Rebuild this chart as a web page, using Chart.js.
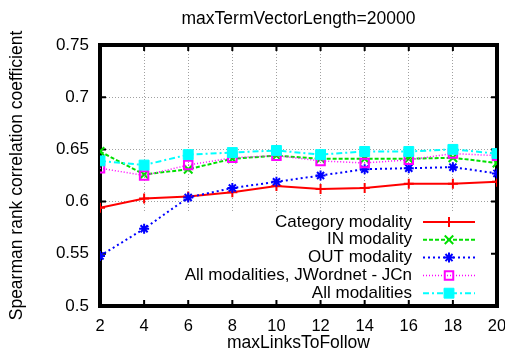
<!DOCTYPE html>
<html>
<head>
<meta charset="utf-8">
<script src="https://cdn.jsdelivr.net/npm/chart.js@4.4.0/dist/chart.umd.min.js"></script>
<style>
  html, body { margin: 0; padding: 0; background: #fff; }
</style>
</head>
<body>
<canvas id="chart" width="505" height="360"></canvas>
<script>
// valores
const maxLinks = [2, 4, 6, 8, 10, 12, 14, 16, 18, 20];
const categoryModality = [0.594, 0.603, 0.605, 0.609, 0.615, 0.612, 0.613, 0.617, 0.617, 0.619];
const inModality = [0.648, 0.626, 0.631, 0.641, 0.644, 0.641, 0.641, 0.641, 0.642, 0.637];
const outModality = [0.548, 0.574, 0.604, 0.613, 0.619, 0.625, 0.631, 0.632, 0.633, 0.627];
const allJCn = [0.632, 0.625, 0.635, 0.642, 0.644, 0.639, 0.637, 0.640, 0.646, 0.644];
const allModalities = [0.639, 0.635, 0.645, 0.647, 0.649, 0.645, 0.648, 0.648, 0.650, 0.646];
const seriesNames = ["Category modality", "IN modality", "OUT modality", "All modalities, JWordnet - JCn", "All modalities"];
const yTicks = [0.5, 0.55, 0.6, 0.65, 0.7, 0.75];
const chartTitle = "maxTermVectorLength=20000";

const FONT = "'Liberation Sans', Arial, sans-serif";

function pts(values) {
  return values.map((v, i) => ({ x: maxLinks[i], y: v }));
}

// título, recuadro opaco de la leyenda, marco y marcas interiores (estilo gnuplot)
const gnuplotKey = {
  id: "gnuplotKey",
  beforeDatasetsDraw(chart) {
    const { ctx, chartArea: a, scales } = chart;
    ctx.save();
    ctx.fillStyle = "#000";
    ctx.font = "17.5px " + FONT;
    ctx.textAlign = "center";
    ctx.textBaseline = "middle";
    ctx.fillText(chartTitle, (a.left + a.right) / 2, 19);

    const keyTop = a.bottom - 93;
    ctx.fillStyle = "#fff";
    ctx.fillRect(a.left, keyTop, a.right - a.left, a.bottom - keyTop);

    ctx.strokeStyle = "#000";
    ctx.lineWidth = 4;
    ctx.setLineDash([]);
    ctx.strokeRect(a.left, a.top, a.right - a.left, a.bottom - a.top);

    ctx.lineWidth = 2;
    ctx.beginPath();
    maxLinks.forEach(v => {
      const x = scales.x.getPixelForValue(v);
      ctx.moveTo(x, a.bottom); ctx.lineTo(x, a.bottom - 6);
      ctx.moveTo(x, a.top); ctx.lineTo(x, a.top + 6);
    });
    yTicks.forEach(v => {
      const y = scales.y.getPixelForValue(v);
      ctx.moveTo(a.left, y); ctx.lineTo(a.left + 6, y);
      ctx.moveTo(a.right, y); ctx.lineTo(a.right - 6, y);
    });
    ctx.stroke();
    ctx.restore();
  },
  afterDatasetsDraw(chart) {
    const { ctx, chartArea: a } = chart;
    ctx.save();
    ctx.font = "17px " + FONT;
    ctx.textAlign = "right";
    ctx.textBaseline = "middle";
    chart.data.datasets.forEach((ds, i) => {
      const y = a.bottom - 84 + i * 17.8;
      ctx.fillStyle = "#000";
      ctx.fillText(ds.label, a.right - 85, y);
      ctx.strokeStyle = ds.borderColor;
      ctx.lineWidth = ds.borderWidth;
      ctx.setLineDash(ds.borderDash || []);
      ctx.beginPath();
      ctx.moveTo(a.right - 74, y);
      ctx.lineTo(a.right - 22, y);
      ctx.stroke();
      ctx.setLineDash([]);
      ctx.fillStyle = ds.pointBackgroundColor;
      ctx.strokeStyle = ds.pointBorderColor;
      ctx.lineWidth = ds.pointBorderWidth;
      Chart.helpers.drawPoint(ctx, {
        pointStyle: ds.pointStyle, radius: ds.pointRadius, rotation: 0, borderWidth: ds.pointBorderWidth
      }, a.right - 48, y);
    });
    ctx.restore();
  }
};

const ctx = document.getElementById("chart").getContext("2d");
new Chart(ctx, {
  type: "line",
  data: {
    datasets: [
      {
        label: seriesNames[0], data: pts(categoryModality), order: 4,
        borderColor: "#ff0000", borderWidth: 2, borderDash: [],
        pointStyle: "cross", pointRadius: 5, pointBorderWidth: 2,
        pointBorderColor: "#ff0000", pointBackgroundColor: "#ff0000"
      },
      {
        label: seriesNames[1], data: pts(inModality), order: 3,
        borderColor: "#00e000", borderWidth: 2, borderDash: [4, 2],
        pointStyle: "crossRot", pointRadius: 6, pointBorderWidth: 2,
        pointBorderColor: "#00e000", pointBackgroundColor: "#00e000"
      },
      {
        label: seriesNames[2], data: pts(outModality), order: 2,
        borderColor: "#0000ff", borderWidth: 2, borderDash: [2, 3],
        pointStyle: "star", pointRadius: 5, pointBorderWidth: 2,
        pointBorderColor: "#0000ff", pointBackgroundColor: "#0000ff"
      },
      {
        label: seriesNames[3], data: pts(allJCn), order: 1,
        borderColor: "#ff00ff", borderWidth: 1.5, borderDash: [1, 2],
        pointStyle: "rect", pointRadius: 6, pointBorderWidth: 2,
        pointBorderColor: "#ff00ff", pointBackgroundColor: "rgba(0,0,0,0)"
      },
      {
        label: seriesNames[4], data: pts(allModalities), order: 0,
        borderColor: "#00ffff", borderWidth: 2, borderDash: [6, 3, 2, 3],
        pointStyle: "rect", pointRadius: 7, pointBorderWidth: 1,
        pointBorderColor: "#00ffff", pointBackgroundColor: "#00ffff"
      }
    ]
  },
  options: {
    responsive: false,
    animation: false,
    layout: { padding: { left: 0, right: 8, top: 45, bottom: 0 } },
    plugins: {
      legend: { display: false },
      tooltip: { enabled: false },
      title: { display: false }
    },
    scales: {
      x: {
        type: "linear", min: 2, max: 20,
        afterFit: s => { s.height = 54; s.paddingRight = 0; s.paddingLeft = 0; },
        ticks: { stepSize: 2, color: "#000", padding: 11, font: { family: FONT, size: 16.5 } },
        grid: { color: "#a0a0a0", drawTicks: false, lineWidth: 1 },
        border: { display: false, dash: [1, 2] },
        title: {
          display: true, text: "maxLinksToFollow", color: "#000",
          font: { family: FONT, size: 17.5 }, padding: { top: 0, bottom: 6.5 }
        }
      },
      y: {
        min: 0.5, max: 0.75,
        afterFit: s => { s.width = 100; s.paddingTop = 0; s.paddingBottom = 0; },
        ticks: {
          stepSize: 0.05, color: "#000", padding: 11, font: { family: FONT, size: 17 },
          callback: v => String(+v.toFixed(2))
        },
        grid: { color: "#a0a0a0", drawTicks: false, lineWidth: 1 },
        border: { display: false, dash: [1, 2] },
        title: {
          display: true, text: "Spearman rank correlation coefficient", color: "#000",
          font: { family: FONT, size: 17.5 }, padding: { top: 6.5, bottom: 0 }
        }
      }
    }
  },
  plugins: [gnuplotKey]
});
</script>
</body>
</html>
